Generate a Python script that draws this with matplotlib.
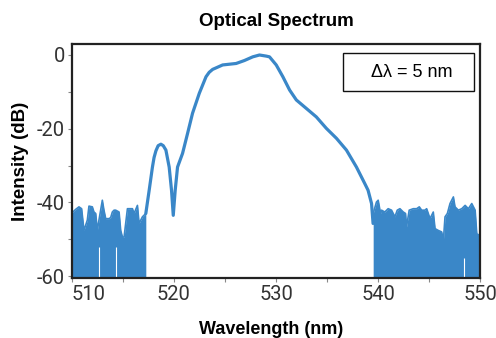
"""Optical spectrum with noise floor on both sides of the pulse."""
import matplotlib
matplotlib.use("Agg")
import matplotlib.pyplot as plt
from matplotlib.patches import Rectangle

# main spectral line (nm, dB)
wl_main = [517.24, 517.57, 517.89, 518.05, 518.23, 518.45, 518.72, 518.95,
           519.21, 519.53, 519.76, 519.93, 520.12, 520.35, 520.84, 521.33,
           521.82, 522.48, 523.14, 523.45, 523.79, 524.77, 526.09, 526.90,
           527.72, 528.38, 529.04, 529.36, 530.02, 530.67, 531.33, 531.99,
           532.97, 533.95, 534.93, 535.92, 536.90, 537.88, 538.70, 539.02,
           539.36, 539.51]
db_main = [-43.0, -36.7, -30.4, -27.8, -26.0, -24.6, -24.2, -24.6,
           -25.8, -30.4, -36.7, -43.5, -36.7, -30.4, -26.7, -21.3,
           -15.8, -10.4, -5.9, -4.7, -3.9, -2.7, -2.3, -1.5,
           -0.5, 0.0, -0.3, -0.5, -2.7, -5.9, -9.5, -12.2,
           -14.5, -16.8, -19.9, -22.6, -25.8, -30.4, -34.9, -36.7,
           -40.3, -45.7]

# noise floor, upper envelope
wl_noise_l = [510.00, 510.10, 510.36, 510.69, 510.95, 511.18, 511.51, 511.67,
              512.00, 512.16, 512.33, 512.49, 512.65, 512.98, 513.14, 513.31,
              513.64, 513.80, 513.96, 514.13, 514.29, 514.62, 514.78, 514.95,
              515.11, 515.44, 515.60, 515.93, 516.09, 516.42, 516.58, 516.91,
              517.24]
db_noise_l = [-43.0, -42.6, -41.9, -41.2, -41.7, -47.6, -44.8, -41.0,
              -41.2, -42.6, -43.0, -47.6, -44.8, -39.4, -42.1, -44.4,
              -44.4, -44.1, -42.6, -42.1, -42.1, -42.6, -47.6, -49.4,
              -49.4, -41.7, -41.7, -41.7, -43.0, -40.8, -45.7, -43.9,
              -43.0]

wl_noise_r = [539.52, 539.84, 540.01, 540.24, 540.34, 540.66, 540.99, 541.32,
              541.65, 541.88, 542.14, 542.47, 542.69, 542.79, 543.05, 543.45,
              543.78, 544.04, 544.27, 544.59, 544.76, 544.92, 545.09, 545.41,
              545.58, 545.90, 546.23, 546.40, 546.56, 546.79, 547.05, 547.38,
              547.54, 547.87, 548.20, 548.53, 548.85, 549.18, 549.51, 549.67,
              549.93, 550.00]
db_noise_r = [-43.0, -39.9, -39.4, -43.0, -42.1, -42.6, -41.7, -42.1,
              -43.9, -42.1, -41.7, -42.6, -43.0, -46.6, -42.1, -41.7,
              -41.7, -41.2, -42.1, -42.1, -41.7, -43.0, -44.4, -42.6,
              -47.1, -47.6, -48.0, -50.3, -43.9, -43.0, -40.3, -38.5,
              -41.2, -42.1, -41.7, -40.8, -41.7, -40.3, -42.1, -48.5,
              -48.9, -48.9]

# spots where the noise did not reach the floor
wl_gap = [512.7, 514.35, 548.4]
db_gap = [-52.0, -52.0, -55.0]

blue = "#3a87c8"
floor = -61

fig = plt.figure(figsize=(4.96, 3.38), dpi=100)
ax = fig.add_axes([0.145, 0.1775, 0.823, 0.6925])

for wl, db in ((wl_noise_l, db_noise_l), (wl_noise_r, db_noise_r)):
    ax.fill_between(wl, floor, db, color=blue, lw=0)
    ax.plot(wl, db, color=blue, lw=1.2)
ax.vlines(wl_gap, floor, db_gap, color="white", lw=0.8)
ax.plot(wl_main, db_main, color=blue, lw=2.3, solid_capstyle="round",
        solid_joinstyle="round")

ax.set_xlim(510, 550)
ax.set_ylim(-60.5, 3)
ax.set_xticks([510, 520, 530, 540, 550])
ax.set_xticks([515, 525, 535, 545], minor=True)
ax.set_yticks([0, -20, -40, -60])
ax.set_yticks([-10, -30, -50], minor=True)
ax.set_xticklabels(["510", "520", "530", "540", "550"])
ax.set_yticklabels(["0", "-20", "-40", "-60"])
ax.get_xticklabels()[0].set_ha("left")

for lab in ax.get_xticklabels() + ax.get_yticklabels():
    lab.set_family("Roboto")
    lab.set_fontsize(14.5)
    lab.set_color("#333333")
ax.tick_params(which="both", direction="out", length=3, width=0.8,
               color="#888888", pad=2)
for sp in ax.spines.values():
    sp.set_linewidth(1.6)
    sp.set_color("#222222")

ax.set_title("Optical Spectrum", fontsize=13.5, fontweight="bold",
             family="Liberation Sans", pad=13)
ax.set_xlabel("Wavelength (nm)", fontsize=13, fontweight="bold",
              family="Liberation Sans")
ax.set_ylabel("Intensity (dB)", fontsize=13.5, fontweight="bold",
              family="Liberation Sans")
ax.xaxis.set_label_coords(0.488, -0.182)
ax.yaxis.set_label_coords(-0.105, 0.5)

ax.add_patch(Rectangle((0.663, 0.80), 0.321, 0.16, transform=ax.transAxes,
                       fill=False, ec="#111111", lw=1.0))
ax.text(0.833, 0.88, "\u0394\u03bb = 5 nm", transform=ax.transAxes,
        ha="center", va="center", fontsize=13, family="Liberation Sans")

fig.savefig("out.png", dpi=100)
